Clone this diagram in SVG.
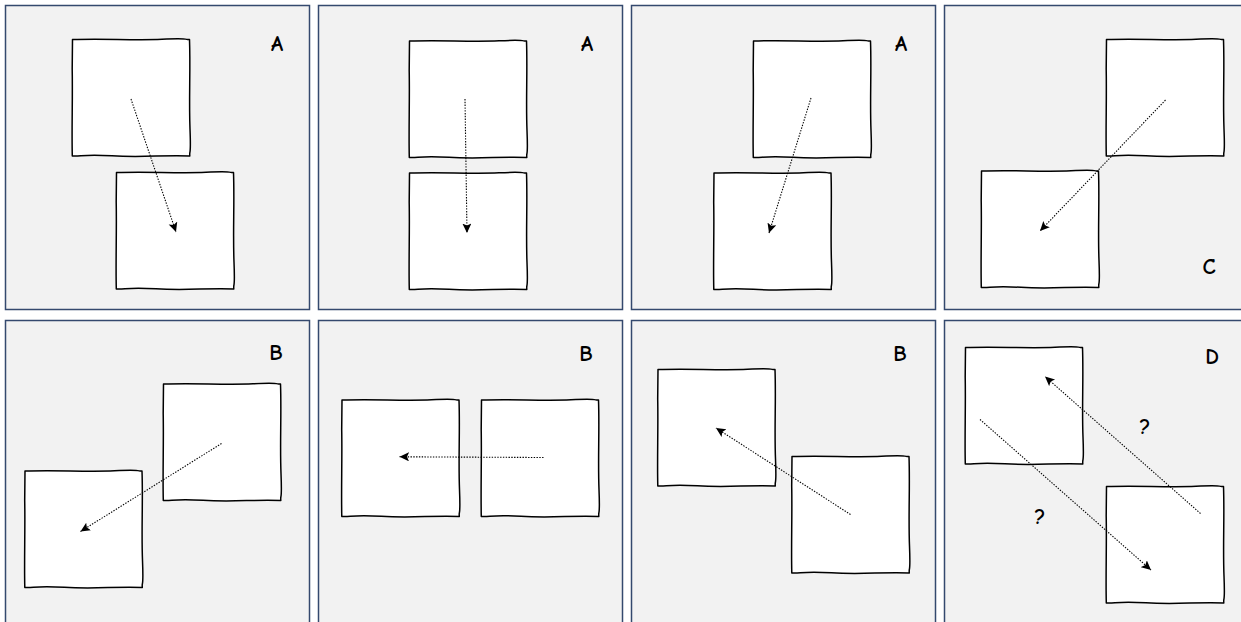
<svg xmlns="http://www.w3.org/2000/svg" xmlns:xlink="http://www.w3.org/1999/xlink" width="1241" height="622" viewBox="0 0 1241 622">
<style>
.panel{fill:#f2f2f2;stroke:#34496e;stroke-width:1.5}
.box{fill:#ffffff;stroke:#000000;stroke-width:1.5;stroke-linejoin:round}
.conn{fill:none;stroke:#000000;stroke-width:1.1;stroke-dasharray:1.4 1.4;marker-end:url(#arrow)}
.lbl{font-family:"Comic Sans MS","Comic Neue","DejaVu Sans",sans-serif;font-size:22px;font-weight:bold;fill:#000000;text-anchor:middle;dominant-baseline:central}
</style>
<defs>
<marker id="arrow" markerUnits="userSpaceOnUse" markerWidth="12" markerHeight="10" refX="9.5" refY="4.5" orient="auto">
<path d="M0,0 L9.5,4.5 L0,9 L2,4.5 Z" fill="#000000"/>
</marker>
<path id="bx" class="box" d="M0.5,0.6 C30,-0.8 60,1.6 90,0.3 S112,0.9 117.5,0.5 C118.6,30 116.8,60 118,90 S117.2,110 117.8,117 C90,116 70,118.6 40,116.8 S10,117.6 0.3,117 C-0.4,90 0.8,60 0.2,30 Z"/>
</defs>
<g id="panels">
<rect class="panel" x="5.5" y="5.5" width="304" height="304"/>
<rect class="panel" x="318.5" y="5.5" width="304" height="304"/>
<rect class="panel" x="631.5" y="5.5" width="304" height="304"/>
<rect class="panel" x="944.5" y="5.5" width="304" height="304"/>
<rect class="panel" x="5.5" y="320.5" width="304" height="304"/>
<rect class="panel" x="318.5" y="320.5" width="304" height="304"/>
<rect class="panel" x="631.5" y="320.5" width="304" height="304"/>
<rect class="panel" x="944.5" y="320.5" width="304" height="304"/>
</g>
<g id="p1a"><use xlink:href="#bx" x="72" y="39"/></g>
<g id="p1b"><use xlink:href="#bx" x="116" y="172"/></g>
<g id="p2a"><use xlink:href="#bx" x="409" y="40.5"/></g>
<g id="p2b"><use xlink:href="#bx" x="409" y="172.5"/></g>
<g id="p3a"><use xlink:href="#bx" x="753" y="40.5"/></g>
<g id="p3b"><use xlink:href="#bx" x="713.5" y="172.5"/></g>
<g id="p4a"><use xlink:href="#bx" x="1106" y="39"/></g>
<g id="p4b"><use xlink:href="#bx" x="981" y="170.5"/></g>
<g id="p5a"><use xlink:href="#bx" x="163" y="383.5"/></g>
<g id="p5b"><use xlink:href="#bx" x="24.5" y="470.5"/></g>
<g id="p6a"><use xlink:href="#bx" x="341.5" y="399.5"/></g>
<g id="p6b"><use xlink:href="#bx" x="481" y="399.5"/></g>
<g id="p7a"><use xlink:href="#bx" x="657.5" y="369"/></g>
<g id="p7b"><use xlink:href="#bx" x="791.5" y="456"/></g>
<g id="p8a"><use xlink:href="#bx" x="965" y="347"/></g>
<g id="p8b"><use xlink:href="#bx" x="1106" y="486"/></g>
<g id="connectors">
<line class="conn" x1="131" y1="99" x2="176" y2="232"/>
<line class="conn" x1="465" y1="99" x2="467" y2="233"/>
<line class="conn" x1="811" y1="98" x2="769" y2="233"/>
<line class="conn" x1="1165.5" y1="100" x2="1040" y2="231"/>
<line class="conn" x1="221.5" y1="443.5" x2="80.5" y2="531.5"/>
<line class="conn" x1="543.5" y1="457.5" x2="399.5" y2="456.8"/>
<line class="conn" x1="850.5" y1="514.5" x2="716" y2="428"/>
<line class="conn" x1="1200.5" y1="513.5" x2="1045" y2="376.5"/>
<line class="conn" x1="980" y1="419.5" x2="1151" y2="570"/>
</g>
<g id="labels">
<text class="lbl" x="277" y="44">A</text>
<text class="lbl" x="587" y="44">A</text>
<text class="lbl" x="901" y="44">A</text>
<text class="lbl" x="1209" y="267">C</text>
<text class="lbl" x="276" y="353">B</text>
<text class="lbl" x="586" y="354">B</text>
<text class="lbl" x="900" y="354">B</text>
<text class="lbl" x="1212" y="357">D</text>
<text class="lbl" x="1145" y="427">?</text>
<text class="lbl" x="1040" y="517">?</text>
</g>
</svg>
